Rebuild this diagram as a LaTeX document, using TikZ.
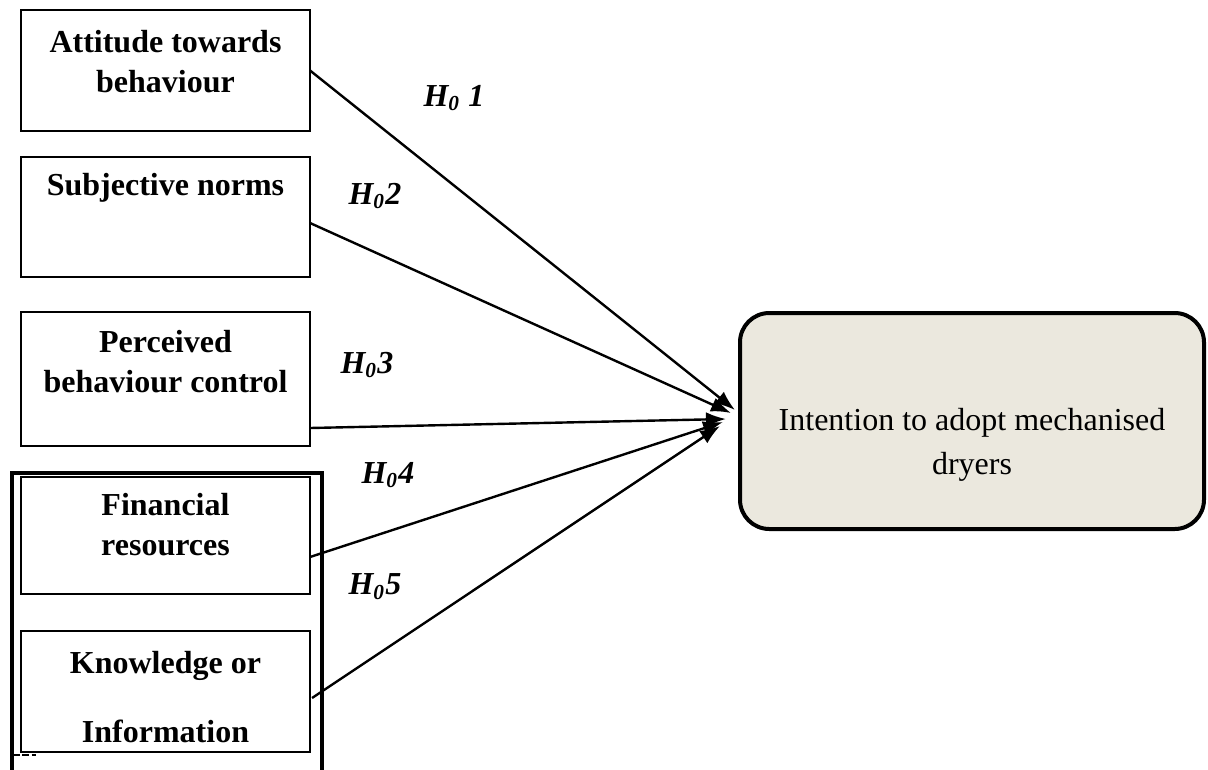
\documentclass[tikz,border=0pt]{standalone}
\usepackage{fontspec}
\setmainfont{Liberation Serif}
\usetikzlibrary{arrows.meta,calc}
\definecolor{intentfill}{HTML}{EBE8DE}

\begin{document}
\begin{tikzpicture}[x=0.375pt,y=-0.375pt,
	box/.style={draw,line width=0.75pt,inner sep=0pt,outer sep=0pt,minimum width=108.4pt},
	boxtext/.style={font=\fontsize{12}{15}\selectfont\bfseries,align=center},
	hyp/.style={font=\fontsize{12}{14}\selectfont\bfseries\itshape},
	link/.style={line width=0.9pt,-{Latex[length=7.5pt,width=5.5pt]}}]
	\useasboundingbox (0,0) rectangle (1208,769);

	\node [box,minimum height=45.4pt] (att) at (165.5,70.5) {};
	\node [box,minimum height=45pt] (subj) at (165.5,217) {};
	\node [box,minimum height=50.25pt] (pbc) at (165.5,379) {};
	\node [box,minimum height=43.9pt] (fin) at (165.5,535.5) {};
	\node [box,minimum height=45.4pt] (know) at (165.5,691.5) {};

	\node [boxtext] (att-t) at (165.5,62) {Attitude towards\\behaviour};
	\node [boxtext] (subj-t) at (165.5,188) {Subjective norms};
	\node [boxtext] (pbc-t) at (165.5,362) {Perceived\\behaviour control};
	\node [boxtext] (fin-t) at (165.5,525) {Financial\\resources};
	\node [boxtext] (know-t) at (165.5,697) {Knowledge or\\[11pt]Information};

	\draw [line width=1.5pt] (12,780) |- (322,473) -- (322,780);
	\draw [line width=1.1pt,dash pattern=on 2.5pt off 1pt] (13,755) -- (36,755);

	\node [draw,line width=1.5pt,fill=intentfill,rounded corners=11pt,
		minimum width=174pt,minimum height=81pt] (intent) at (972,421) {};
	\node [font=\fontsize{12}{16.5}\selectfont,align=center] (intent-t) at (972,445)
		{Intention to adopt mechanised\\dryers};

	\draw [link] (att.east) -- ($(intent.west)+(-3,-11)$);
	\draw [link] ($(subj.east)+(0,6)$) -- ($(intent.west)+(-7,-8)$);
	\draw [link] ($(pbc.east)+(0,49)$) -- ($(intent.west)+(-12,-2)$);
	\draw [link] ($(fin.east)+(0,21.5)$) -- ($(intent.west)+(-15,1)$);
	\draw [link] ($(know.east)+(2,6.5)$) -- ($(intent.west)+(-18,5)$);

	\node [hyp] (h1) at (454,98) {H\textsubscript{0} 1};
	\node [hyp] (h2) at (375,196) {H\textsubscript{0}2};
	\node [hyp] (h3) at (367,365) {H\textsubscript{0}3};
	\node [hyp] (h4) at (388,475) {H\textsubscript{0}4};
	\node [hyp] (h5) at (375,587) {H\textsubscript{0}5};
\end{tikzpicture}
\end{document}
